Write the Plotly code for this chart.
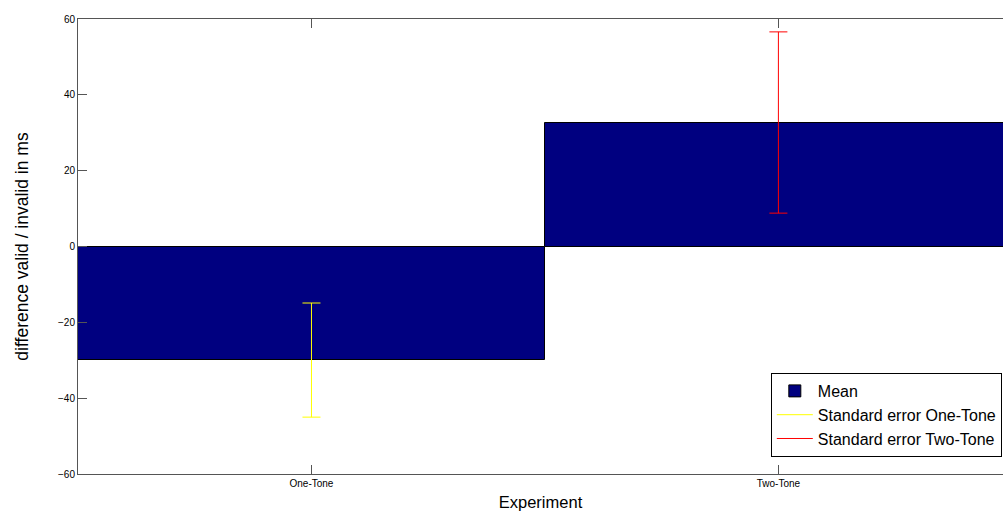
import plotly.graph_objects as go

categories = ["One-Tone", "Two-Tone"]
means = [-30.0, 32.6]
err_low = [-45.0, 8.8]
err_high = [-14.9, 56.6]
y_ticks = [-60, -40, -20, 0, 20, 40, 60]

fig = go.Figure()
fig.add_trace(go.Bar(
    x=categories, y=means, name="Mean", width=1.0,
    marker=dict(color="#000080", line=dict(color="#000000", width=1)),
))
err_colors = ["#ffff00", "#ff0000"]
err_names = ["Standard error One-Tone", "Standard error Two-Tone"]
for i in range(2):
    fig.add_trace(go.Scatter(
        x=[categories[i]], y=[means[i]], mode="lines", name=err_names[i],
        line=dict(color=err_colors[i], width=1),
        error_y=dict(type="data", symmetric=False,
                     array=[err_high[i] - means[i]],
                     arrayminus=[means[i] - err_low[i]],
                     color=err_colors[i], thickness=1, width=9),
    ))

fig.update_layout(
    width=1003, height=514,
    margin=dict(l=78, r=0, t=19, b=40, autoexpand=False),
    plot_bgcolor="white", paper_bgcolor="white",
    bargap=0,
    font=dict(family="Liberation Sans, Arial", color="#000000"),
    showlegend=True,
    legend=dict(x=0.749, y=0.222, xanchor="left", yanchor="top",
                bgcolor="white", bordercolor="#000000", borderwidth=1,
                font=dict(size=16), tracegroupgap=0, itemwidth=36),
    xaxis=dict(
        range=[-0.5, 1.481], tickvals=categories, ticktext=categories,
        ticks="inside", ticklen=9, tickcolor="#555555",
        showline=True, linecolor="#555555", linewidth=1, mirror="ticks",
        showgrid=False, zeroline=False, tickfont=dict(size=10),
        title=dict(text="Experiment", font=dict(size=16.5), standoff=8),
    ),
    yaxis=dict(
        range=[-60, 60], tickvals=y_ticks,
        ticks="inside", ticklen=9, tickcolor="#555555",
        showline=True, linecolor="#555555", linewidth=1,
        showgrid=False, zeroline=False, tickfont=dict(size=10),
        title=dict(text="difference valid / invalid in ms", font=dict(size=17.5), standoff=24),
    ),
)
fig.write_html("out.html")
